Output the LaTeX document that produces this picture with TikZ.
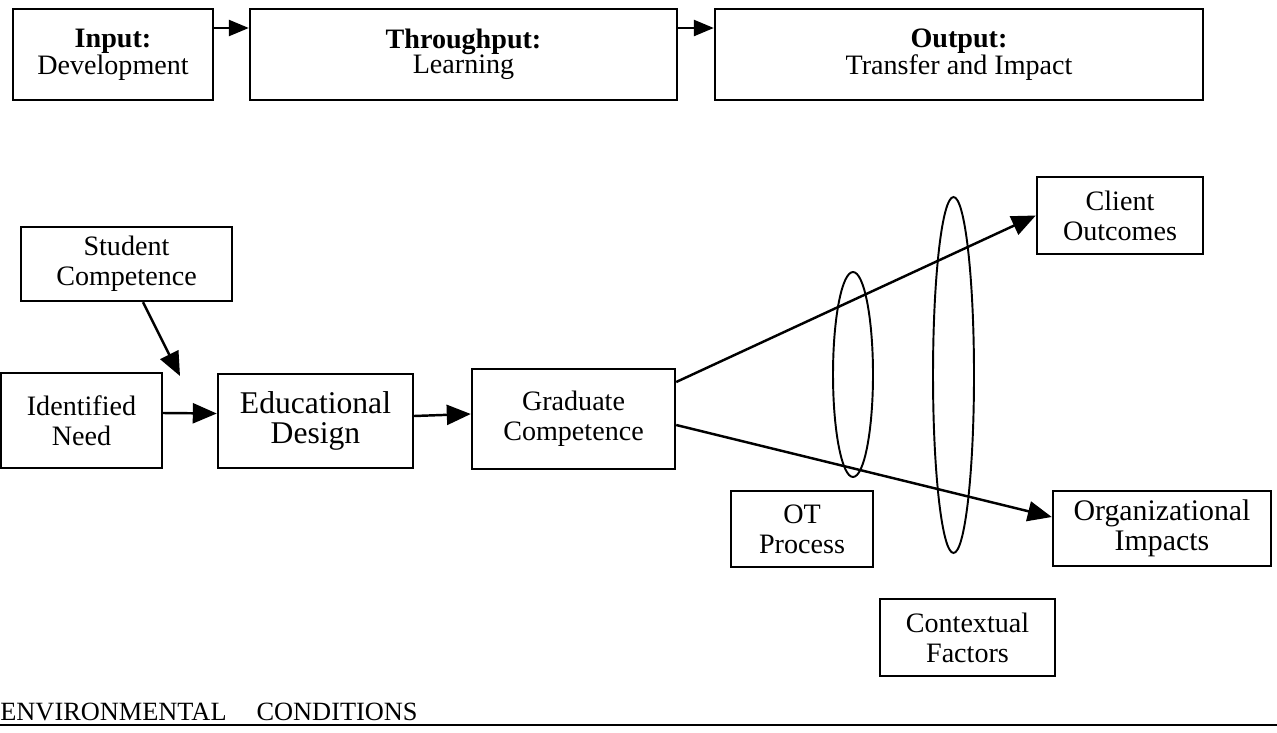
\documentclass[tikz,border=0pt]{standalone}
\usepackage{fontspec}
\setmainfont{Liberation Serif}
\usetikzlibrary{arrows.meta}

\begin{document}
\begin{tikzpicture}[x=0.02cm,y=-0.02cm,
	hop/.style={draw,line width=1.4pt,align=center,inner sep=0pt,font=\fontsize{16}{17}\selectfont},
	tophop/.style={hop,font=\fontsize{16}{14.5}\selectfont},
	arr/.style={line width=1.4pt,-{Triangle[length=0.48cm,width=0.4cm]}},
	toparr/.style={line width=1.4pt,-{Triangle[length=0.4cm,width=0.32cm]}},
	ring/.style={line width=1.1pt}]
				\useasboundingbox (0,0) rectangle (1277,733);
				
				% Ba giai đoạn ở hàng trên
				\node[tophop,minimum width=4cm,minimum height=1.82cm] (inp) at (113,54.5) {\textbf{Input:}\\Development};
				\node[tophop,minimum width=8.54cm,minimum height=1.82cm] (thr) at (463.5,54.5) {\textbf{Throughput:}\\Learning};
				\node[tophop,minimum width=9.76cm,minimum height=1.82cm] (outp) at (959,54.5) {\textbf{Output:}\\Transfer and Impact};
				\draw[toparr] ([yshift=0.53cm]inp.east) -- ([yshift=0.53cm]thr.west);
				\draw[toparr] ([yshift=0.53cm]thr.east) -- ([yshift=0.53cm]outp.west);
				
				% Các khối của mô hình
				\node[hop,minimum width=4.22cm,minimum height=1.48cm] (stud) at (126.5,264) {Student\\Competence};
				\node[hop,minimum width=3.22cm,minimum height=1.9cm] (need) at (81.5,420.5) {Identified\\Need};
				\node[hop,font=\fontsize{18}{17}\selectfont,minimum width=3.9cm,minimum height=1.88cm] (edu) at (315.5,421) {Educational\\Design};
				\node[hop,minimum width=4.06cm,minimum height=2cm] (grad) at (573.5,419) {Graduate\\Competence};
				\node[hop,minimum width=3.32cm,minimum height=1.54cm] (client) at (1120,215.5) {Client\\Outcomes};
				\node[hop,minimum width=2.84cm,minimum height=1.52cm] (ot) at (802,529) {OT\\Process};
				\node[hop,font=\fontsize{17}{17}\selectfont,minimum width=4.36cm,minimum height=1.5cm] (org) at (1162,528.5) {Organizational\\Impacts};
				\node[hop,minimum width=3.5cm,minimum height=1.54cm] (ctx) at (967.5,637.5) {Contextual\\Factors};
				
				% Các mũi tên
				\coordinate (join) at (180,376); % giữa Need và Design
				\draw[arr] ([xshift=0.33cm]stud.south) -- (join);
				\draw[arr] ([yshift=0.15cm]need.east) -- ([yshift=0.15cm]edu.west);
				\draw[arr] ([yshift=0.1cm]edu.east) -- ([yshift=0.1cm]grad.west);
				\draw[arr] ([yshift=0.74cm]grad.east) -- (client.west);
				\draw[arr] ([yshift=-0.12cm]grad.east) -- ([yshift=0.23cm]org.west);
				
				% Hai elip
				\draw[ring] (853,374.5) ellipse (0.4cm and 2.05cm);
				\draw[ring] (953.5,375) ellipse (0.41cm and 3.56cm);
				
				% Điều kiện môi trường
				\node[anchor=base west,inner sep=0pt,font=\fontsize{15}{15}\selectfont] (env) at (0,720) {ENVIRONMENTAL\hspace{0.6cm}CONDITIONS};
				\draw[line width=1.6pt] (0,725) -- (1277,725);
		\end{tikzpicture}
\end{document}
